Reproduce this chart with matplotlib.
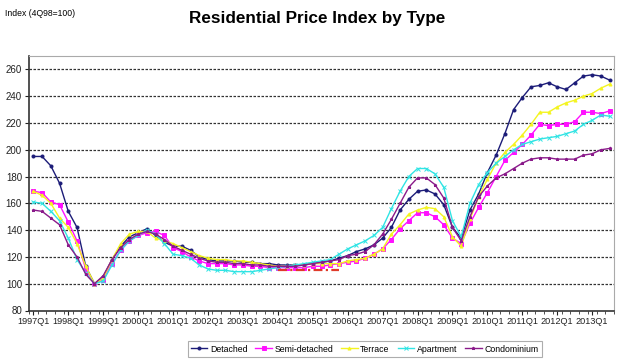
import numpy as np
import matplotlib.pyplot as plt

plt.rcParams['font.family'] = ['Liberation Sans', 'DejaVu Sans']

# quarterly index, 4Q98 = 100, 1997Q1 .. 2013Q3
quarters = [f"{y}Q{q}" for y in range(1997, 2014) for q in range(1, 5)][:67]

detached = [195, 195, 188, 175, 154, 142, 113, 100,
            105, 118, 128, 135, 138, 141, 136, 131,
            128, 128, 125, 120, 118, 117, 117, 117,
            116, 116, 115, 115, 114, 114, 114, 114,
            115, 116, 117, 119, 121, 124, 126, 129,
            134, 142, 155, 163, 169, 170, 167, 159,
            142, 134, 155, 167, 183, 196, 212, 230,
            239, 247, 248, 250, 247, 245, 250, 255,
            256, 255, 252]
semi = [169, 168, 161, 159, 146, 132, 111, 100,
        103, 115, 125, 132, 136, 138, 139, 136,
        127, 124, 120, 117, 115, 115, 115, 114,
        114, 113, 113, 112, 112, 112, 112, 112,
        113, 113, 114, 115, 116, 117, 119, 122,
        126, 133, 141, 147, 153, 153, 150, 144,
        134, 130, 145, 157, 168, 180, 192, 198,
        204, 211, 219, 218, 219, 219, 221, 228,
        228, 227, 229]
terrace = [169, 166, 160, 149, 142, 130, 113, 100,
           104, 118, 130, 137, 139, 139, 134, 132,
           130, 127, 124, 121, 119, 118, 118, 117,
           117, 116, 115, 114, 113, 113, 114, 114,
           115, 115, 115, 115, 117, 118, 119, 122,
           126, 137, 144, 152, 155, 157, 156, 150,
           135, 128, 148, 165, 178, 190, 198, 204,
           211, 219, 228, 228, 232, 235, 237, 240,
           242, 246, 249]
apartment = [161, 160, 154, 147, 134, 118, 108, 100,
             102, 114, 125, 132, 136, 140, 137, 130,
             122, 121, 119, 114, 111, 110, 110, 109,
             109, 109, 110, 111, 112, 113, 114, 115,
             116, 117, 118, 122, 126, 129, 132, 136,
             142, 156, 169, 180, 186, 186, 182, 172,
             147, 135, 160, 174, 183, 190, 195, 200,
             204, 206, 208, 209, 210, 212, 214, 219,
             222, 226, 225]
condo = [155, 154, 149, 144, 129, 120, 107, 100,
         106, 118, 127, 133, 137, 139, 137, 133,
         128, 125, 122, 119, 117, 116, 116, 115,
         115, 114, 114, 113, 113, 113, 113, 114,
         115, 116, 117, 118, 121, 122, 124, 129,
         137, 148, 160, 172, 179, 179, 174, 164,
         142, 132, 150, 165, 173, 179, 182, 186,
         190, 193, 194, 194, 193, 193, 193, 196,
         197, 200, 201]

series_names = ["Detached", "Semi-detached", "Terrace", "Apartment", "Condominium"]
series_vals = [detached, semi, terrace, apartment, condo]
colors = ["#1c1c78", "#ff10ff", "#f4f420", "#30e4e4", "#8a1a8a"]
markers = ["o", "s", "^", "x", "*"]

# red underline drawn on the original slide
red_x = [28, 35]
red_y = [110.5, 110.5]

fig = plt.figure(figsize=(6.4, 3.6), dpi=100)
ax = fig.add_axes([29/640, 1-310.5/360, (614-29)/640, (310.5-56)/360])

x = np.arange(len(quarters))
for name, vals, c, m in zip(series_names, series_vals, colors, markers):
    ax.plot(x, vals, color=c, lw=1.0, marker=m, ms=2.2, mew=0.7, label=name)

ax.plot(red_x, red_y, color="#e03a2a", lw=1.6, ls=(0, (4, 1.5, 1, 1.5)), zorder=5)

ax.set_xlim(-0.5, len(quarters) - 0.5)
ax.set_ylim(80, 270)
ax.set_yticks(range(80, 261, 20))
ax.set_xticks(x[::4])
ax.set_xticklabels(quarters[::4])
ax.set_xticks(np.arange(-0.5, len(quarters), 1), minor=True)
ax.tick_params(axis="x", which="minor", length=2, width=0.6, color="#333333")
ax.tick_params(axis="both", which="major", labelsize=7, length=3, width=0.8,
               colors="#222222", pad=2)
ax.tick_params(axis="x", which="major", labelsize=6.6)
for yv in range(100, 261, 20):
    ax.axhline(yv, color="#333333", lw=0.9, ls=(0, (2, 1.2)), zorder=0)

ax.spines["left"].set_color("#333333")
ax.spines["bottom"].set_color("#333333")
ax.spines["left"].set_linewidth(1.2)
ax.spines["bottom"].set_linewidth(1.2)
ax.spines["top"].set_color("#aaaaaa")
ax.spines["right"].set_color("#aaaaaa")

fig.text(0.495, 0.95, "Residential Price Index by Type", ha="center", va="center",
         fontsize=12.3, fontweight="bold")
fig.text(0.008, 0.963, "Index (4Q98=100)", ha="left", va="center", fontsize=6.2)

leg = fig.legend(loc="center", bbox_to_anchor=(364.5/640, 1-349/360), ncol=5,
                 fontsize=6.3, frameon=True, fancybox=False, handlelength=1.9,
                 handletextpad=0.3, columnspacing=0.9, borderpad=0.35)
leg.get_frame().set_edgecolor("#999999")
leg.get_frame().set_linewidth(0.8)

fig.savefig("out.png", dpi=100)
